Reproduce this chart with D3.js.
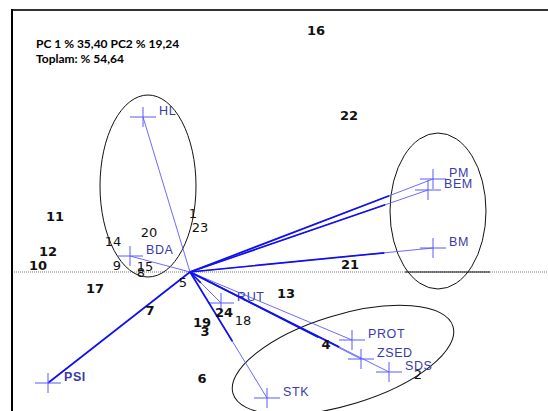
<!DOCTYPE html>
<html>
<head>
<meta charset="utf-8">
<script src="https://cdn.jsdelivr.net/npm/d3@7"></script>
<style>
  html, body { margin: 0; padding: 0; background: #fff; }
  svg { display: block; }
</style>
</head>
<body>
<svg id="chart" width="548" height="411"></svg>
<script>
// Variable loadings (PC1, PC2)
const varNames = ["HL", "BDA", "PM", "BEM", "BM", "PSI", "RUT", "PROT", "ZSED", "SDS", "STK"];
const varPC1   = [-0.235, -0.30, 1.215, 1.19, 1.215, -0.71, 0.155, 0.81, 0.855, 0.995, 0.385];
const varPC2   = [0.775, 0.08, 0.465, 0.41, 0.12, -0.555, -0.155, -0.34, -0.435, -0.50, -0.63];

// Genotype scores (PC1, PC2)
const obsNames = ["1","2","3","4","5","6","7","8","9","10","11","12","13","14","15","16","17","18","19","20","21","22","23","24"];
const obsPC1 = [0.015, 1.14, 0.075, 0.68, -0.035, 0.06, -0.20, -0.245, -0.365, -0.76, -0.675, -0.71, 0.48, -0.385, -0.225, 0.63, -0.475, 0.265, 0.06, -0.205, 0.80, 0.795, 0.05, 0.17];
const obsPC2 = [0.295, -0.51, -0.295, -0.36, -0.05, -0.53, -0.19, 0.0, 0.035, 0.035, 0.28, 0.105, -0.105, 0.155, 0.03, 1.21, -0.08, -0.24, -0.25, 0.20, 0.04, 0.785, 0.225, -0.20];
const obsBold = [false,false,true,true,false,true,true,false,false,true,true,true,true,false,false,true,true,false,true,false,true,true,false,true];

// Grouping ellipses: centre (PC1, PC2), semi-axes, rotation
const ellCx = [-0.21, 1.24, 0.765];
const ellCy = [0.43, 0.305, -0.44];
const ellRx = [0.24, 0.24, 0.575];
const ellRy = [0.455, 0.39, 0.225];
const ellRot = [0, 0, -17];

const titleLines = ["PC 1 % 35,40 PC2 % 19,24", "Toplam: % 54,64"];

// Portion of each vector drawn with the heavy stroke
const heavyPart = [0, 0, 0.82, 0.82, 0.8, 1, 0.35, 0, 0.75, 0.75, 0.55];

const svg = d3.select("#chart");
const x = d3.scaleLinear().domain([-0.89, 1.79]).range([12, 548]);
const y = d3.scaleLinear().domain([-0.695, 1.31]).range([411, 10]);

const x0 = x(0), y0 = y(0);

// Horizontal PC1 axis (dotted) with a solid stretch
svg.append("line")
  .attr("x1", 12).attr("x2", 548).attr("y1", y0).attr("y2", y0)
  .attr("stroke", "#777").attr("stroke-width", 1).attr("stroke-dasharray", "1,1");
svg.append("line")
  .attr("x1", 405).attr("x2", 490).attr("y1", y0).attr("y2", y0)
  .attr("stroke", "#111").attr("stroke-width", 1);

// Frame
svg.append("line").attr("x1", 12).attr("x2", 548).attr("y1", 10).attr("y2", 10)
  .attr("stroke", "#333").attr("stroke-width", 1.8);
svg.append("line").attr("x1", 12).attr("x2", 12).attr("y1", 9).attr("y2", 411)
  .attr("stroke", "#000").attr("stroke-width", 2);

// Title
svg.append("g").selectAll("text").data(titleLines).join("text")
  .attr("x", 36).attr("y", (d, i) => 48 + i * 15)
  .attr("font-family", "Lato, 'Open Sans', sans-serif")
  .attr("font-weight", "bold").attr("font-size", 12)
  .attr("fill", "#000").text(d => d);

// Ellipses
svg.append("g").selectAll("ellipse").data(ellCx).join("ellipse")
  .attr("cx", 0).attr("cy", 0)
  .attr("rx", (d, i) => x(ellRx[i]) - x(0))
  .attr("ry", (d, i) => y(0) - y(ellRy[i]))
  .attr("transform", (d, i) => `translate(${x(d)},${y(ellCy[i])}) rotate(${ellRot[i]})`)
  .attr("fill", "none").attr("stroke", "#111").attr("stroke-width", 1);

// Vectors
const vg = svg.append("g");
varNames.forEach((n, i) => {
  const ex = x(varPC1[i]), ey = y(varPC2[i]);
  vg.append("line").attr("x1", x0).attr("y1", y0).attr("x2", ex).attr("y2", ey)
    .attr("stroke", "#5a5aff").attr("stroke-width", 0.9);
  if (heavyPart[i] > 0) {
    const f = heavyPart[i];
    vg.append("line").attr("x1", x0).attr("y1", y0)
      .attr("x2", x0 + (ex - x0) * f).attr("y2", y0 + (ey - y0) * f)
      .attr("stroke", "#1010f0").attr("stroke-width", 1.7);
  }
  // cross marker
  vg.append("line").attr("x1", ex - 13).attr("x2", ex + 13).attr("y1", ey).attr("y2", ey)
    .attr("stroke", "#5a5aff").attr("stroke-width", 1);
  vg.append("line").attr("x1", ex).attr("x2", ex).attr("y1", ey - 10).attr("y2", ey + 10)
    .attr("stroke", "#5a5aff").attr("stroke-width", 1);
  vg.append("text").attr("x", ex + 16).attr("y", ey - 6)
    .attr("dominant-baseline", "central")
    .attr("font-family", "'Liberation Sans', Arial, sans-serif")
    .attr("font-size", 12.5).attr("letter-spacing", 0.6)
    .attr("font-weight", n === "PSI" ? "bold" : "normal")
    .attr("fill", "#3a3aa8").text(n);
});

// Genotype labels
svg.append("g").selectAll("text").data(obsNames).join("text")
  .attr("x", (d, i) => x(obsPC1[i]))
  .attr("y", (d, i) => y(obsPC2[i]))
  .attr("text-anchor", "middle").attr("dominant-baseline", "central")
  .attr("font-family", "'DejaVu Sans', Verdana, sans-serif")
  .attr("font-size", 13)
  .attr("font-weight", (d, i) => obsBold[i] ? "bold" : "normal")
  .attr("fill", "#111").text(d => d);
</script>
</body>
</html>
